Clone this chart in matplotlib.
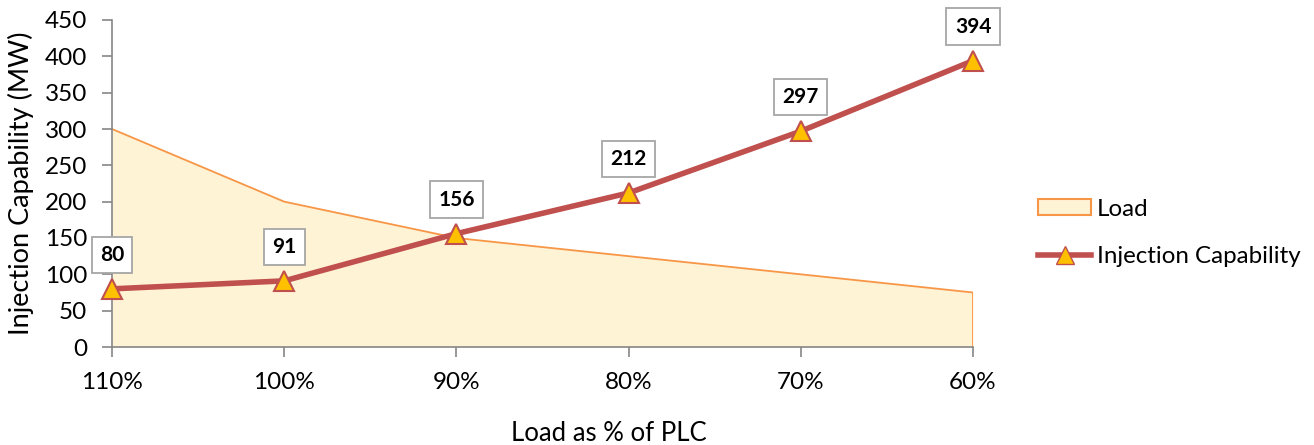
import matplotlib
matplotlib.use("Agg")
import matplotlib.pyplot as plt
from matplotlib.patches import Patch
from matplotlib.lines import Line2D

categories = ["110%", "100%", "90%", "80%", "70%", "60%"]
load = [300, 200, 150, 125, 100, 75]
injection = [80, 91, 156, 212, 297, 394]
yticks = [0, 50, 100, 150, 200, 250, 300, 350, 400, 450]

plt.rcParams['font.family'] = ['Lato', 'DejaVu Sans']

W, H = 1314, 445
fig = plt.figure(figsize=(W/100, H/100), dpi=100)
ax = fig.add_axes([112/W, 1 - 347/H, (973-112)/W, (347-20)/H])

x = list(range(len(categories)))
ax.fill_between(x, load, 0, color="#FFF3D6", zorder=1, lw=0)
ax.plot(x, load, color="#F79646", lw=1.3, zorder=2)
ax.plot([x[-1], x[-1]], [0, load[-1]], color="#F79646", lw=1.3, zorder=2)

ax.plot(x, injection, color="#C0504D", lw=4, marker="^", markersize=15,
        markerfacecolor="#FFC000", markeredgecolor="#C0504D", markeredgewidth=1.5,
        zorder=4, clip_on=False)

for xi, v in zip(x, injection):
    ax.annotate(str(v), (xi, v), xytext=(0, 24.5), textcoords="offset points",
                ha="center", va="center", fontsize=15, fontweight="bold",
                bbox=dict(boxstyle="square,pad=0.4", fc="white", ec="#A6A6A6", lw=1.3),
                zorder=5, annotation_clip=False)

ax.set_xlim(0, len(categories) - 1)
ax.set_ylim(0, 450)
ax.set_yticks(yticks)
ax.set_xticks(x)
ax.set_xticklabels(categories)
ax.tick_params(axis="both", labelsize=17.5, color="#868686", length=7, width=1.2)
ax.tick_params(axis="x", pad=11)
ax.tick_params(axis="y", pad=11)
for s in ["top", "right"]:
    ax.spines[s].set_visible(False)
for s in ["left", "bottom"]:
    ax.spines[s].set_color("#868686")
    ax.spines[s].set_linewidth(1.2)

ax.set_ylabel("Injection Capability (MW)", fontsize=19.5)
ax.yaxis.set_label_coords((34-112)/(973-112), 0.5)
ax.set_xlabel("Load as % of PLC", fontsize=18.5)
ax.xaxis.set_label_coords((609-112)/(973-112), -(421-347)/(347-20))

handles = [
    Patch(facecolor="#FFF3D6", edgecolor="#F79646", lw=1.5, label="Load"),
    Line2D([0], [0], color="#C0504D", lw=4, marker="^", markersize=13,
           markerfacecolor="#FFC000", markeredgecolor="#C0504D", label="Injection Capability"),
]
fig.legend(handles=handles, loc="center left", bbox_to_anchor=(1038/W, 1 - 233/H),
           frameon=False, fontsize=17.4, handlelength=2.2, labelspacing=1.1,
           handletextpad=0.25, handleheight=0.65, borderpad=0, borderaxespad=0)

fig.savefig("out.png", dpi=100)
